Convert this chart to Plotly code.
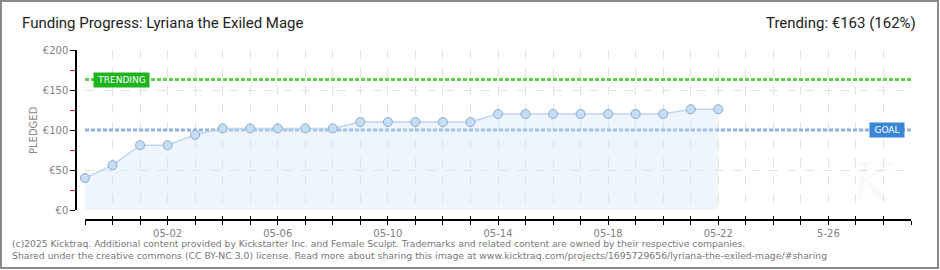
import plotly.graph_objects as go

# ---- data ----
dates = ["2025-04-29", "2025-04-30", "2025-05-01", "2025-05-02", "2025-05-03",
         "2025-05-04", "2025-05-05", "2025-05-06", "2025-05-07", "2025-05-08",
         "2025-05-09", "2025-05-10", "2025-05-11", "2025-05-12", "2025-05-13",
         "2025-05-14", "2025-05-15", "2025-05-16", "2025-05-17", "2025-05-18",
         "2025-05-19", "2025-05-20", "2025-05-21", "2025-05-22"]
pledged = [40, 56, 81, 81, 94, 102, 102, 102, 102, 102, 110, 110, 110, 110, 110,
           120, 120, 120, 120, 120, 120, 120, 126, 126]
range_dates = ["2025-04-29", "2025-05-29"]
goal = 100
trending = 163
tick_dates = ["2025-05-02", "2025-05-06", "2025-05-10", "2025-05-14",
              "2025-05-18", "2025-05-22", "2025-05-26"]
tick_labels = ["05-02", "05-06", "05-10", "05-14", "05-18", "05-22", "5-26"]
y_vals = [0, 50, 100, 150, 200]
y_labels = ["€0", "€50", "€100", "€150", "€200"]
title = "Funding Progress: Lyriana the Exiled Mage"
trend_text = "Trending: €163 (162%)"
footer1 = ("(c)2025 Kicktraq. Additional content provided by Kickstarter Inc. and Female Sculpt. "
           "Trademarks and related content are owned by their respective companies.")
footer2 = ("Shared under the creative commons (CC BY-NC 3.0) license. Read more about sharing "
           "this image at www.kicktraq.com/projects/1695729656/lyriana-the-exiled-mage/#sharing")

# ---- geometry helpers (pixel -> paper) ----
W, H = 940, 270
ML, MR, MT, MB = 76, 29, 50, 50
PW, PH = W - ML - MR, H - MT - MB


def px(x):
    return (x - ML) / PW


def py(y):
    return (H - MB - y) / PH


fig = go.Figure()

# goal and trending lines
fig.add_trace(go.Scatter(x=range_dates, y=[trending, trending], mode="lines",
                         line=dict(color="#5fcf4f", width=3, dash="4px,2px"),
                         hoverinfo="skip", showlegend=False))
fig.add_trace(go.Scatter(x=range_dates, y=[goal, goal], mode="lines",
                         line=dict(color="#8fb2de", width=3, dash="4px,2px"),
                         hoverinfo="skip", showlegend=False))

# pledged series
fig.add_trace(go.Scatter(x=dates, y=pledged, mode="lines+markers",
                         line=dict(color="#bcd6f2", width=1.5),
                         fill="tozeroy", fillcolor="rgba(205,225,248,0.35)",
                         marker=dict(size=9, color="#c6ddf6",
                                     line=dict(color="#8ea9cb", width=1)),
                         cliponaxis=False, showlegend=False))

grid = dict(showgrid=True, gridcolor="#e2e2e2", griddash="dash", gridwidth=1)

fig.update_layout(
    width=W, height=H,
    margin=dict(l=ML, r=MR, t=MT, b=MB),
    paper_bgcolor="white", plot_bgcolor="white",
    font=dict(family="DejaVu Sans", color="#777777", size=10),
    xaxis=dict(
        type="date", range=range_dates, domain=[px(85), 1],
        anchor="free", position=0,
        tickmode="array", tickvals=tick_dates, ticktext=tick_labels,
        ticks="outside", ticklen=4, tickcolor="black", tickwidth=1,
        showline=True, linecolor="black", linewidth=1.5,
        tickfont=dict(family="DejaVu Sans", size=10, color="#808080"),
        minor=dict(dtick=86400000, tick0="2025-04-29", ticks="outside", ticklen=4,
                   tickcolor="black", tickwidth=1, showgrid=True,
                   gridcolor="#e2e2e2", griddash="dash"),
        zeroline=False, **grid,
    ),
    xaxis2=dict(
        type="date", range=range_dates, domain=[px(85), 1],
        overlaying="x", anchor="free", position=0,
        tickmode="array", tickvals=tick_dates, showticklabels=False,
        ticks="inside", ticklen=4, tickcolor="black", tickwidth=1,
        minor=dict(dtick=86400000, tick0="2025-04-29", ticks="inside", ticklen=4,
                   tickcolor="black", tickwidth=1),
        showgrid=False, zeroline=False, showline=False,
    ),
    yaxis=dict(
        range=[0, 200], domain=[py(210), 1],
        anchor="free", position=0,
        tickmode="array", tickvals=y_vals, ticktext=y_labels,
        ticks="outside", ticklen=5, tickcolor="black", tickwidth=1,
        showline=True, linecolor="black", linewidth=1.5,
        tickfont=dict(family="DejaVu Sans", size=10, color="#808080"),
        minor=dict(tickvals=[25, 75, 125, 175], ticks="outside", ticklen=5,
                   tickcolor="#ee2222", tickwidth=1, showgrid=False),
        zeroline=False, **grid,
    ),
)

# invisible trace to ensure xaxis2 is drawn
fig.add_trace(go.Scatter(x=range_dates, y=[None, None], xaxis="x2", yaxis="y",
                         mode="lines", showlegend=False, hoverinfo="skip"))

head_font = dict(family="Roboto, sans-serif", size=15, color="#222222")
annotations = [
    dict(text=title, x=px(20), y=py(23), xref="paper", yref="paper",
         xanchor="left", yanchor="middle", showarrow=False, font=head_font),
    dict(text=trend_text, x=px(918), y=py(23), xref="paper", yref="paper",
         xanchor="right", yanchor="middle", showarrow=False, font=head_font),
    dict(text="PLEDGED", x=px(33), y=py(130), xref="paper", yref="paper",
         textangle=-90, xanchor="center", yanchor="middle", showarrow=False,
         font=dict(family="DejaVu Sans", size=10, color="#888888")),
    dict(text="TRENDING", x=px(93), y=trending, xref="paper", yref="y",
         xanchor="left", yanchor="middle", showarrow=False,
         bgcolor="#1db41d", borderpad=2, width=51, height=10,
         font=dict(family="DejaVu Sans", size=9, color="white")),
    dict(text="GOAL", x=px(905), y=goal, xref="paper", yref="y",
         xanchor="right", yanchor="middle", showarrow=False,
         bgcolor="#3a86d6", borderpad=2, width=30, height=10,
         font=dict(family="DejaVu Sans", size=9, color="white")),
    dict(text="<i>K</i>", x=px(872), y=py(182), xref="paper", yref="paper",
         xanchor="center", yanchor="middle", showarrow=False,
         font=dict(family="DejaVu Serif", size=52, color="rgba(0,0,0,0.025)")),
    dict(text=footer1, x=px(10), y=py(243), xref="paper", yref="paper",
         xanchor="left", yanchor="middle", showarrow=False,
         font=dict(family="DejaVu Sans", size=9.2, color="#777777")),
    dict(text=footer2, x=px(10), y=py(256), xref="paper", yref="paper",
         xanchor="left", yanchor="middle", showarrow=False,
         font=dict(family="DejaVu Sans", size=9.3, color="#777777")),
]
fig.update_layout(annotations=annotations)

# outer frame
fig.add_shape(type="rect", xref="paper", yref="paper",
              x0=px(1), x1=px(938), y0=py(268), y1=py(1),
              line=dict(color="#8a8a8a", width=2), fillcolor="rgba(0,0,0,0)")

fig.write_html("out.html")
